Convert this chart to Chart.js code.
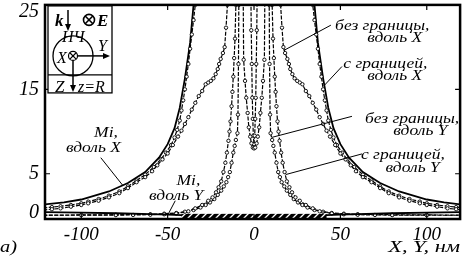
<!DOCTYPE html>
<html>
<head>
<meta charset="utf-8">
<script src="https://cdn.jsdelivr.net/npm/chart.js@4.4.1/dist/chart.umd.min.js"></script>
<style>
  html, body { margin: 0; padding: 0; background: #fff; }
  canvas { display: block; }
</style>
</head>
<body>
<canvas id="myChartField" width="465" height="257"></canvas>
<script>
// ---- datos (X, Y en nm; intensidad) ----
const xTicks = [-100, -50, 0, 50, 100];
const yTicks = [0, 5, 15, 25];

// Mi, вдоль X
const miX_x = [-122, -110, -100, -84, -73, -63, -55, -50, -46, -43, -40, -37, -35, -33, 33, 35, 37, 40, 43, 46, 50, 55, 63, 73, 84, 100, 110, 122];
const miX_y = [1.35, 1.6, 1.95, 2.9, 3.9, 5.2, 6.9, 8.5, 10.4, 12.8, 16.3, 20.5, 25, 31, 31, 25, 20.5, 16.3, 12.8, 10.4, 8.5, 6.9, 5.2, 3.9, 2.9, 1.95, 1.6, 1.3];

// с границей, вдоль X
const bndX_x = [-122, -117, -112, -106, -100, -96, -90, -84, -78, -73, -68, -63, -58, -54, -51, -48, -46, -44.5, -43, -42, -41, -40, -39, -38, -37, -36, -35, -34, -32.5,
	32.5, 34, 35, 36, 37, 38, 39, 40, 41, 42, 43, 44.5, 46, 48, 51, 54, 58, 63, 68, 73, 78, 84, 90, 96, 100, 106, 112, 117, 122];
const bndX_y = [0.95, 1.05, 1.15, 1.3, 1.5, 1.7, 2.0, 2.4, 2.9, 3.5, 4.2, 4.9, 5.8, 6.7, 7.5, 8.4, 9.3, 10.2, 11.3, 12.5, 13.7, 15, 16.5, 18, 19.8, 21.5, 23.2, 25, 29,
	29, 25, 23.2, 21.5, 19.8, 18, 16.5, 15, 13.7, 12.5, 11.3, 10.2, 9.3, 8.4, 7.5, 6.7, 5.8, 4.9, 4.2, 3.5, 2.9, 2.4, 2.0, 1.7, 1.5, 1.3, 1.15, 1.05, 0.95];

// без границы, вдоль X
const freeX_x = [-122, -117, -112, -106, -100, -96, -90, -84, -78, -73, -68, -63, -59, -56, -53, -50, -47, -44, -42, -40, -38, -36, -34, -32, -30, -28, -26.5, -25, -23.5, -22.2, -21, -20.2, -19.3, -18, -17, -16.2, -15.4, -14.5,
	14.5, 15.4, 16.2, 17, 18, 19.3, 20.2, 21, 22.2, 23.5, 25, 26.5, 28, 30, 32, 34, 36, 38, 40, 42, 44, 47, 50, 53, 56, 59, 63, 68, 73, 78, 84, 90, 96, 100, 106, 112, 117, 122];
const freeX_y = [0.7, 0.8, 0.9, 1.1, 1.3, 1.5, 1.8, 2.2, 2.7, 3.3, 4.0, 4.6, 5.3, 6.0, 6.7, 7.4, 8.4, 9.4, 10.1, 10.9, 11.7, 12.6, 13.4, 14.2, 14.8, 15.6, 15.8, 16, 16.3, 16.8, 17.4, 18, 18.6, 19.3, 20, 22.3, 25, 30,
	30, 25, 22.3, 20, 19.3, 18.6, 18, 17.4, 16.8, 16.3, 16, 15.8, 15.6, 14.8, 14.2, 13.4, 12.6, 11.7, 10.9, 10.1, 9.4, 8.4, 7.4, 6.7, 6.0, 5.3, 4.6, 4.0, 3.3, 2.7, 2.2, 1.8, 1.5, 1.3, 1.1, 0.9, 0.8, 0.7];

// с границей, вдоль Y
const bndY_x = [-122, -100, -80, -70, -60, -52, -45, -38, -34, -30, -26.5, -24, -22, -20.5, -19, -17.7, -16.6, -15.7, -14.8, -14.2, -13.6, -13, -12.5, -12, -11.5, -11, -10.5, -10.2,
	10.2, 10.5, 11, 11.5, 12, 12.5, 13, 13.6, 14.2, 14.8, 15.7, 16.6, 17.7, 19, 20.5, 22, 24, 26.5, 30, 34, 38, 45, 52, 60, 70, 80, 100, 122];
const bndY_y = [0.08, 0.09, 0.1, 0.12, 0.15, 0.2, 0.3, 0.55, 0.9, 1.3, 1.8, 2.2, 2.8, 3.4, 4.1, 5.2, 6.3, 7.5, 8.9, 10, 11.2, 13, 14.7, 16.5, 18.7, 21, 25, 30,
	30, 25, 21, 18.7, 16.5, 14.7, 13, 11.2, 10, 8.9, 7.5, 6.3, 5.2, 4.1, 3.4, 2.8, 2.2, 1.8, 1.3, 0.9, 0.55, 0.3, 0.2, 0.15, 0.12, 0.1, 0.09, 0.08];

// без границы, вдоль Y
const freeY_x = [-122, -100, -80, -60, -52, -45, -40, -35, -31, -28, -25.5, -23, -21, -19, -17.5, -16, -15, -14, -13, -12, -11.2, -10.5, -9.6, -9.3, -9, -8.8, -8.6,
	8.6, 8.8, 9, 9.3, 9.6, 10.5, 11.2, 12, 13, 14, 15, 16, 17.5, 19, 21, 23, 25.5, 28, 31, 35, 40, 45, 52, 60, 80, 100, 122];
const freeY_y = [0.1, 0.12, 0.15, 0.2, 0.27, 0.35, 0.5, 0.7, 1.0, 1.3, 1.6, 2.0, 2.5, 3.0, 3.5, 4.0, 4.6, 5.2, 6.3, 7.5, 8.3, 9.0, 9.8, 12, 18, 25, 30,
	30, 25, 18, 12, 9.8, 9.0, 8.3, 7.5, 6.3, 5.2, 4.6, 4.0, 3.5, 3.0, 2.5, 2.0, 1.6, 1.3, 1.0, 0.7, 0.5, 0.35, 0.27, 0.2, 0.15, 0.12, 0.1];

// ramas interiores (dentro de la particula)
const innerW_x = [-6.4, -6, -5.2, -4.5, -3.7, -3, -2.2, -1.5, -0.7, 0, 0.7, 1.5, 2.2, 3, 3.7, 4.5, 5.2, 6, 6.4];
const innerW_y = [30, 18.5, 16, 14, 12.2, 10.5, 9.4, 8.6, 8.1, 8, 8.1, 8.6, 9.4, 10.5, 12.2, 14, 16, 18.5, 30];
const innerV_x = [-2, -1.8, -1.6, -1.3, -1, -0.7, -0.4, 0, 0.4, 0.7, 1, 1.3, 1.6, 1.8, 2];
const innerV_y = [30, 26, 22, 18, 14, 11.5, 9.5, 8.5, 9.5, 11.5, 14, 18, 22, 26, 30];

// Mi, вдоль Y
const miY_x = [-122, -100, -80, -60, -50, -42, -30, 0, 30, 42, 50, 60, 80, 100, 122];
const miY_y = [0.45, 0.4, 0.32, 0.22, 0.16, 0.1, 0.05, 0.02, 0.05, 0.1, 0.16, 0.22, 0.32, 0.4, 0.45];

// подложка (zona rayada)
const substrateX = [-42, 42];
const substrateTop = 0.25;

// etiquetas: [texto, x, y] en coordenadas de datos (alineadas a la derecha)
const notes = [
	["без границы,", 101.5, 22.0], ["вдоль X", 97.4, 20.6],
	["с границей,", 100.3, 17.5], ["вдоль X", 97.4, 16.1],
	["без границы,", 118.8, 11.0], ["вдоль Y", 112, 9.6],
	["с границей,", 110.5, 6.8], ["вдоль Y", 107.5, 5.2],
	["Mi,", -78.8, 9.3], ["вдоль X", -77, 7.6],
	["Mi,", -31.1, 3.65], ["вдоль Y", -29.4, 1.9],
];
// lineas indicadoras [x1, y1, x2, y2]
const pointers = [
	[44.5, 22.6, 17.2, 19.6],
	[50.9, 17.7, 40.4, 15.4],
	[56.7, 11.8, 10.2, 9.3],
	[62.5, 7.35, 18.3, 4.9],
	[-88.7, 6.9, -75.9, 3.6],
	[-45.6, 1.8, -49.7, 0.2],
];

function pts(xs, ys) {
	return xs.map((v, i) => ({ x: v, y: ys[i] }));
}

const serif = "'Liberation Serif', 'DejaVu Serif', serif";

const dashed = {
	showLine: true,
	borderColor: "#000",
	borderWidth: 1.2,
	borderDash: [4, 1.5],
	pointRadius: 1.7,
	pointBackgroundColor: "#fff",
	pointBorderColor: "#000",
	pointBorderWidth: 0.9,
	tension: 0,
};
const solid = {
	showLine: true,
	borderColor: "#000",
	borderWidth: 1.8,
	pointRadius: 0,
	tension: 0,
};

// texto ensanchado horizontalmente (como en el original)
function wideText(ctx, txt, px, py, align, sx) {
	ctx.save();
	ctx.translate(px, py);
	ctx.scale(sx, 1);
	ctx.textAlign = align;
	ctx.fillText(txt, 0, 0);
	ctx.restore();
}

function hatchPattern(ctx) {
	const c = document.createElement("canvas");
	c.width = 7; c.height = 7;
	const p = c.getContext("2d");
	p.fillStyle = "#000";
	p.fillRect(0, 0, 7, 7);
	p.strokeStyle = "#fff";
	p.lineWidth = 1.3;
	p.beginPath();
	p.moveTo(0, 7); p.lineTo(7, 0);
	p.moveTo(-1, 1); p.lineTo(1, -1);
	p.moveTo(6, 8); p.lineTo(8, 6);
	p.stroke();
	return ctx.createPattern(c, "repeat");
}

function arrow(ctx, x1, y1, x2, y2) {
	const ang = Math.atan2(y2 - y1, x2 - x1);
	ctx.beginPath();
	ctx.lineWidth = 1.5;
	ctx.moveTo(x1, y1); ctx.lineTo(x2 - 5 * Math.cos(ang), y2 - 5 * Math.sin(ang));
	ctx.stroke();
	ctx.beginPath();
	ctx.moveTo(x2, y2);
	ctx.lineTo(x2 - 7 * Math.cos(ang) + 3 * Math.sin(ang), y2 - 7 * Math.sin(ang) - 3 * Math.cos(ang));
	ctx.lineTo(x2 - 7 * Math.cos(ang) - 3 * Math.sin(ang), y2 - 7 * Math.sin(ang) + 3 * Math.cos(ang));
	ctx.closePath();
	ctx.fill();
}

function otimes(ctx, x0, y0, r, w) {
	ctx.beginPath();
	ctx.fillStyle = "#fff";
	ctx.arc(x0, y0, r, 0, Math.PI * 2);
	ctx.fill();
	ctx.lineWidth = w;
	ctx.stroke();
	const d = r * 0.7;
	ctx.beginPath();
	ctx.moveTo(x0 - d, y0 - d); ctx.lineTo(x0 + d, y0 + d);
	ctx.moveTo(x0 + d, y0 - d); ctx.lineTo(x0 - d, y0 + d);
	ctx.stroke();
	ctx.fillStyle = "#000";
}

const decor = {
	id: "decor",
	afterDatasetsDraw(chart) {
		const { ctx, chartArea: a, scales: { x, y } } = chart;
		ctx.save();

		// substrate
		const sx1 = x.getPixelForValue(substrateX[0]);
		const sx2 = x.getPixelForValue(substrateX[1]);
		const sy = y.getPixelForValue(substrateTop);
		ctx.fillStyle = hatchPattern(ctx);
		ctx.fillRect(sx1, sy, sx2 - sx1, a.bottom - sy);

		// pointers
		ctx.strokeStyle = "#000";
		ctx.lineWidth = 1;
		ctx.setLineDash([]);
		pointers.forEach(p => {
			ctx.beginPath();
			ctx.moveTo(x.getPixelForValue(p[0]), y.getPixelForValue(p[1]));
			ctx.lineTo(x.getPixelForValue(p[2]), y.getPixelForValue(p[3]));
			ctx.stroke();
		});

		// notes
		ctx.fillStyle = "#000";
		ctx.font = "italic 14px " + serif;
		ctx.textBaseline = "alphabetic";
		notes.forEach(n => {
			wideText(ctx, n[0], x.getPixelForValue(n[1]), y.getPixelForValue(n[2]), "right", 1.25);
		});

		// frame + inner ticks
		ctx.lineWidth = 2.5;
		ctx.strokeRect(a.left, a.top, a.right - a.left, a.bottom - a.top);
		ctx.lineWidth = 1.2;
		ctx.beginPath();
		xTicks.forEach(v => {
			const px = x.getPixelForValue(v);
			ctx.moveTo(px, a.top); ctx.lineTo(px, a.top + 5);
			ctx.moveTo(px, a.bottom); ctx.lineTo(px, a.bottom - 5);
		});
		yTicks.filter(v => v > 0 && v < 25).forEach(v => {
			const py = y.getPixelForValue(v);
			ctx.moveTo(a.left, py); ctx.lineTo(a.left + 5, py);
			ctx.moveTo(a.right, py); ctx.lineTo(a.right - 5, py);
		});
		ctx.stroke();

		// y tick labels
		ctx.font = "italic 20px " + serif;
		ctx.textBaseline = "middle";
		ctx.textAlign = "right";
		yTicks.forEach(v => {
			let py = y.getPixelForValue(v);
			py = Math.min(Math.max(py, a.top + 7), a.bottom - 6);
			ctx.fillText(String(v), a.left - 6, py);
		});

		// axis title and panel letter
		ctx.font = "italic 16px " + serif;
		ctx.textBaseline = "alphabetic";
		wideText(ctx, "X, Y, нм", a.right, 252, "right", 1.4);
		ctx.font = "italic 17px " + serif;
		wideText(ctx, "а)", 0, 252, "left", 1.2);

		// inset
		const bx = a.left + 3, by = a.top + 1, bw = 64, bh = 87;
		ctx.fillStyle = "#fff";
		ctx.fillRect(bx, by, bw, bh);
		ctx.lineWidth = 1.3;
		ctx.strokeRect(bx, by, bw, bh);
		ctx.beginPath();
		ctx.moveTo(bx, by + 69); ctx.lineTo(bx + bw, by + 69);
		ctx.stroke();
		const cx = bx + 25, cy = by + 50;
		ctx.beginPath();
		ctx.arc(cx, cy, 20, 0, Math.PI * 2);
		ctx.stroke();
		ctx.fillStyle = "#000";
		ctx.font = "italic bold 17px " + serif;
		ctx.textAlign = "left";
		ctx.fillText("k", bx + 7, by + 20);
		ctx.fillText("E", bx + 49, by + 20);
		arrow(ctx, bx + 20, by + 4, bx + 20, by + 25);
		otimes(ctx, bx + 41, by + 14, 5.5, 1.6);
		ctx.font = "italic 16px " + serif;
		ctx.fillStyle = "#000";
		ctx.fillText("НЧ", bx + 14, by + 36);
		ctx.fillText("Y", bx + 50, by + 45);
		ctx.fillText("X", bx + 9, by + 57);
		arrow(ctx, cx, cy, cx + 37, cy);
		arrow(ctx, cx, cy, cx, cy + 36);
		otimes(ctx, cx, cy, 4.5, 1.2);
		ctx.font = "italic 17px " + serif;
		ctx.fillStyle = "#000";
		ctx.fillText("Z", bx + 7, by + 86);
		ctx.font = "italic 16px " + serif;
		ctx.fillText("z=R", bx + 30, by + 86);

		ctx.restore();
	},
};

const ctx1 = document.getElementById("myChartField").getContext("2d");

let myChartField = new Chart(ctx1, {
	type: "scatter",
	data: {
		datasets: [
			{ label: "Mi, вдоль Y", data: pts(miY_x, miY_y), ...solid },
			{ label: "с границей, вдоль Y", data: pts(bndY_x, bndY_y), ...dashed },
			{ label: "без границы, вдоль Y", data: pts(freeY_x, freeY_y), ...dashed },
			{ label: "inner W", data: pts(innerW_x, innerW_y), ...dashed },
			{ label: "inner V", data: pts(innerV_x, innerV_y), ...dashed },
			{ label: "без границы, вдоль X", data: pts(freeX_x, freeX_y), ...dashed },
			{ label: "с границей, вдоль X", data: pts(bndX_x, bndX_y), ...dashed },
			{ label: "Mi, вдоль X", data: pts(miX_x, miX_y), ...solid },
		],
	},
	options: {
		responsive: false,
		animation: false,
		layout: { padding: { top: 2, right: 2, left: 0, bottom: 0 } },
		scales: {
			x: {
				type: "linear",
				min: -121,
				max: 119.3,
				afterBuildTicks: s => { s.ticks = xTicks.map(v => ({ value: v })); },
				afterFit: s => { s.height = 38; },
				grid: { display: false, drawTicks: false },
				border: { display: false },
				ticks: {
					color: "black",
					padding: 5,
					maxRotation: 0,
					font: { family: serif, style: "italic", size: 19 },
					callback: v => String(v),
				},
			},
			y: {
				type: "linear",
				min: -0.36,
				max: 25,
				afterBuildTicks: s => { s.ticks = yTicks.map(v => ({ value: v })); },
				afterFit: s => { s.width = 45; },
				grid: { display: false, drawTicks: false },
				border: { display: false },
				ticks: { display: false },
			},
		},
		plugins: {
			legend: { display: false },
			tooltip: { enabled: false },
		},
	},
	plugins: [decor],
});
</script>
</body>
</html>
